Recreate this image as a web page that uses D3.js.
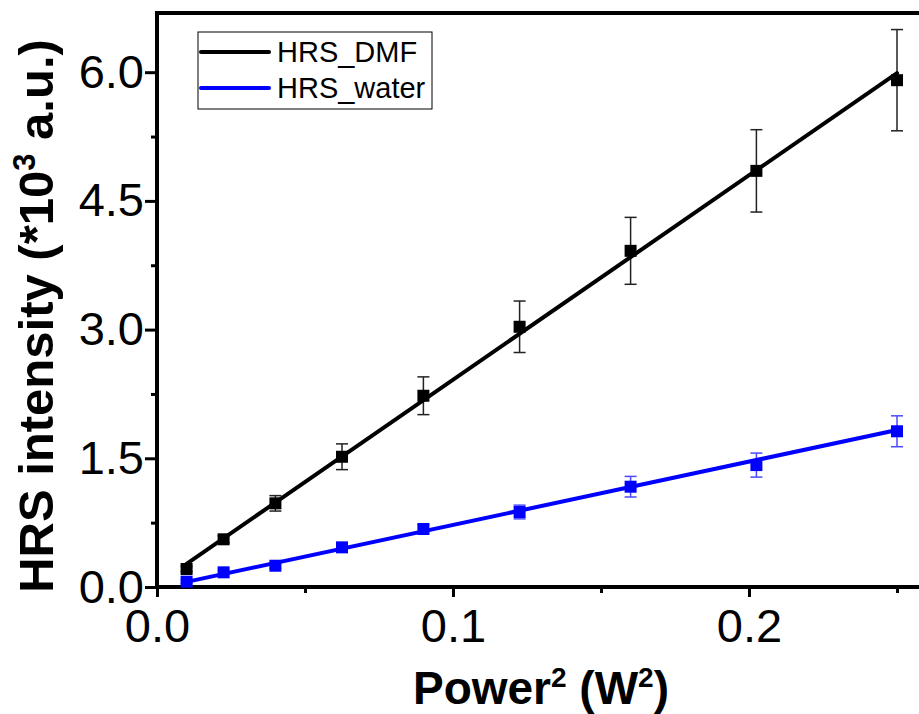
<!DOCTYPE html>
<html>
<head>
<meta charset="utf-8">
<script src="https://cdn.jsdelivr.net/npm/d3@7"></script>
<style>
  body { margin: 0; background: #fff; }
  svg { display: block; font-family: Arial, "Liberation Sans", sans-serif; }
</style>
</head>
<body>
<div id="chart"></div>
<script>
// values
const power2 = [0.01, 0.0225, 0.04, 0.0625, 0.09, 0.1225, 0.16, 0.2025, 0.25];
const dmf = [0.21, 0.556, 0.975, 1.518, 2.229, 3.033, 3.918, 4.85, 5.907];
const dmfErr = [0.03, 0.04, 0.09, 0.15, 0.22, 0.30, 0.39, 0.48, 0.59];
const water = [0.062, 0.171, 0.248, 0.462, 0.676, 0.874, 1.169, 1.421, 1.815];
const waterErr = [0.02, 0.02, 0.03, 0.04, 0.05, 0.08, 0.12, 0.14, 0.18];
const dmfFit = [[0.01, 0.27], [0.25, 5.99]];
const waterFit = [[0.01, 0.06], [0.25, 1.83]];

const xTicks = [0, 0.1, 0.2];
const xMinor = [0.05, 0.15, 0.25];
const yTicks = [0, 1.5, 3.0, 4.5, 6.0];
const yMinor = [0.75, 2.25, 3.75, 5.25];

const W = 919, H = 714;
const mLeft = 157, mTop = 13, mBottom = 587;

const svg = d3.select('#chart').append('svg')
  .attr('width', W)
  .attr('height', H);

const x = d3.scaleLinear().domain([0, 0.26]).range([mLeft, mLeft + 0.26 * 2960]);
const y = d3.scaleLinear().domain([0, 6.69]).range([mBottom, mTop]);

// axes
const yAxis = svg.append('g')
  .attr('transform', `translate(${mLeft},0)`)
  .call(d3.axisLeft(y).tickValues(yTicks).tickSize(12).tickPadding(1).tickFormat(d3.format('.1f')));
const yMin = svg.append('g')
  .attr('transform', `translate(${mLeft},0)`)
  .call(d3.axisLeft(y).tickValues(yMinor).tickSize(6).tickFormat(''));
const xAxis = svg.append('g')
  .attr('transform', `translate(0,${mBottom})`)
  .call(d3.axisBottom(x).tickValues(xTicks).tickSize(10).tickPadding(12).tickFormat(d3.format('.1f')));
const xMin = svg.append('g')
  .attr('transform', `translate(0,${mBottom})`)
  .call(d3.axisBottom(x).tickValues(xMinor).tickSize(6).tickFormat(''));

[yAxis, yMin, xAxis, xMin].forEach(g => {
  g.select('.domain').remove();
  g.selectAll('line').attr('stroke', '#000').attr('stroke-width', 3);
  g.selectAll('text')
    .attr('fill', '#000')
    .attr('font-size', 47)
    .attr('font-family', 'Arial, "Liberation Sans", sans-serif');
});

// frame: left, bottom, top
svg.append('path')
  .attr('d', `M${W},${mTop}H${mLeft}V${mBottom}H${W}`)
  .attr('fill', 'none')
  .attr('stroke', '#000')
  .attr('stroke-width', 4)
  .attr('stroke-linecap', 'square');

const line = d3.line().x(d => x(d[0])).y(d => y(d[1]));

function series(vals, errs, fit, color, errColor) {
  const g = svg.append('g');
  const pts = power2.map((p, i) => ({ p: p, v: vals[i], e: errs[i] }));

  const eb = g.selectAll('.eb').data(pts).enter().append('g')
    .attr('stroke', errColor)
    .attr('stroke-width', 1.5);
  eb.append('line')
    .attr('x1', d => x(d.p)).attr('x2', d => x(d.p))
    .attr('y1', d => y(d.v - d.e)).attr('y2', d => y(d.v + d.e));
  eb.append('line')
    .attr('x1', d => x(d.p) - 6).attr('x2', d => x(d.p) + 6)
    .attr('y1', d => y(d.v + d.e)).attr('y2', d => y(d.v + d.e));
  eb.append('line')
    .attr('x1', d => x(d.p) - 6).attr('x2', d => x(d.p) + 6)
    .attr('y1', d => y(d.v - d.e)).attr('y2', d => y(d.v - d.e));

  g.append('path')
    .datum(fit)
    .attr('d', line)
    .attr('fill', 'none')
    .attr('stroke', color)
    .attr('stroke-width', 4)
    .attr('stroke-linecap', 'round');

  g.selectAll('.pt').data(pts).enter().append('rect')
    .attr('x', d => x(d.p) - 6)
    .attr('y', d => y(d.v) - 6)
    .attr('width', 12)
    .attr('height', 12)
    .attr('fill', color);
}

series(dmf, dmfErr, dmfFit, '#000', '#222');
series(water, waterErr, waterFit, '#0000ff', '#4a4aff');

// legend
const legend = svg.append('g');
legend.append('rect')
  .attr('x', 198).attr('y', 32).attr('width', 234).attr('height', 77)
  .attr('fill', '#fff').attr('stroke', '#000').attr('stroke-width', 1);
[['HRS_DMF', '#000', 52], ['HRS_water', '#0000ff', 88]].forEach(([name, c, ly]) => {
  legend.append('line')
    .attr('x1', 201).attr('x2', 269).attr('y1', ly).attr('y2', ly)
    .attr('stroke', c).attr('stroke-width', 4).attr('stroke-linecap', 'round');
  legend.append('text')
    .attr('x', 277).attr('y', ly + 10)
    .attr('font-size', 29)
    .text(name);
});

// axis titles
const xt = svg.append('text')
  .attr('x', 541).attr('y', 704)
  .attr('text-anchor', 'middle')
  .attr('font-size', 46)
  .attr('font-weight', 'bold');
xt.append('tspan').text('Power');
xt.append('tspan').attr('font-size', 28).attr('dy', -17).text('2');
xt.append('tspan').attr('dy', 17).text(' (W');
xt.append('tspan').attr('font-size', 28).attr('dy', -17).text('2');
xt.append('tspan').attr('dy', 17).text(')');

const yt = svg.append('text')
  .attr('transform', 'translate(53,316) rotate(-90)')
  .attr('text-anchor', 'middle')
  .attr('font-size', 49)
  .attr('font-weight', 'bold');
yt.append('tspan').text('HRS intensity (*10');
yt.append('tspan').attr('font-size', 31).attr('dy', -18).text('3');
yt.append('tspan').attr('dy', 18).text(' a.u.)');
</script>
</body>
</html>
